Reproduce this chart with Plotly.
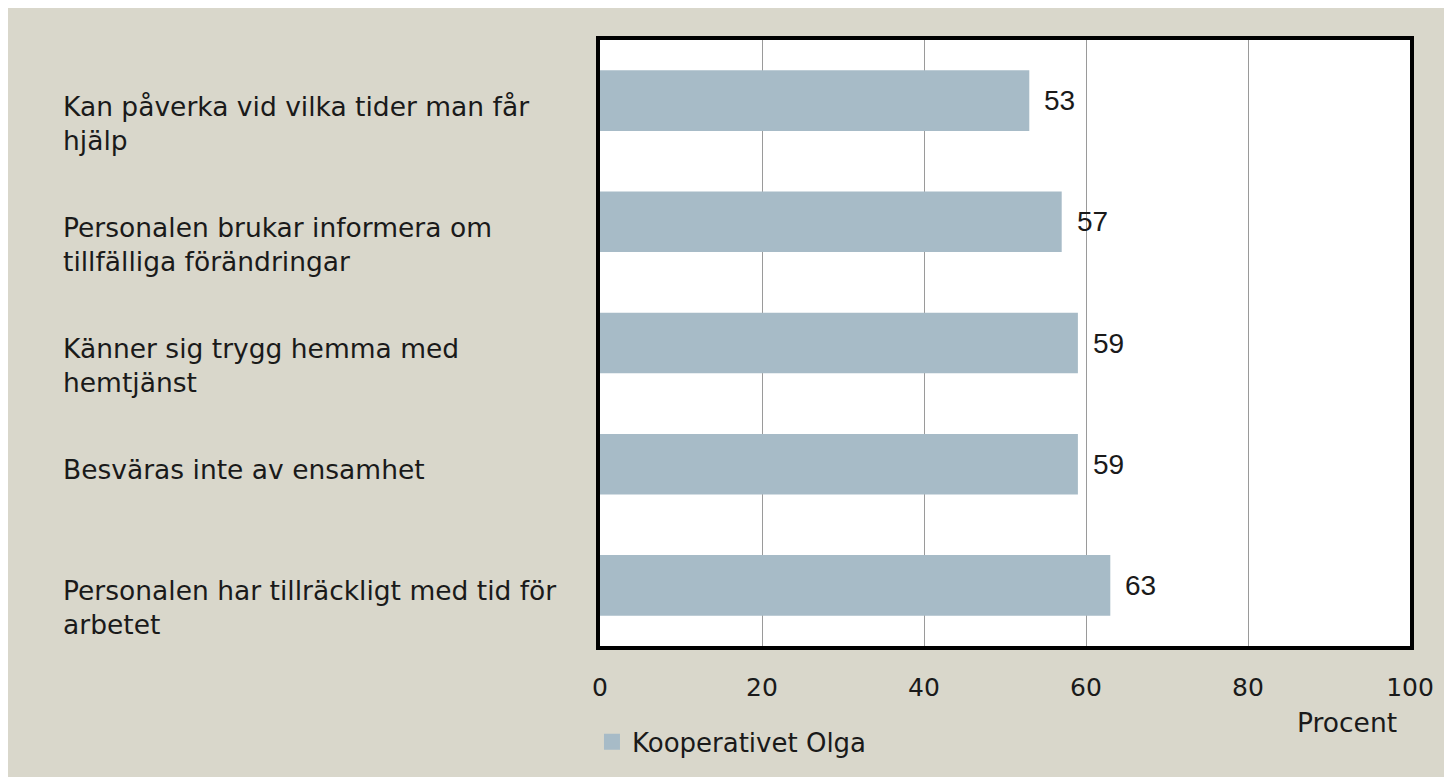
import plotly.graph_objects as go

categories = [
    "Kan påverka vid vilka tider man får<br>hjälp",
    "Personalen brukar informera om<br>tillfälliga förändringar",
    "Känner sig trygg hemma med<br>hemtjänst",
    "Besväras inte av ensamhet",
    "Personalen har tillräckligt med tid för<br>arbetet",
]
values = [53, 57, 59, 59, 63]
series_name = "Kooperativet Olga"
tick_vals = [0, 20, 40, 60, 80, 100]
x_title = "Procent"

BG = "#D9D7CB"
BAR = "#A7BBC7"
TXT = "#1a1a1a"
LABEL_FONT = "DejaVu Sans"

fig = go.Figure()
fig.add_trace(go.Bar(
    x=values, y=categories, orientation="h", name=series_name,
    marker=dict(color=BAR, line=dict(width=0)),
    showlegend=False,
))
# legend entry with a larger square swatch (no data points drawn)
fig.add_trace(go.Scatter(
    x=[None], y=[None], mode="markers", name=series_name,
    marker=dict(symbol="square", size=16, color=BAR, line=dict(width=0)),
    showlegend=True, hoverinfo="skip",
))

annotations = []
for c in categories:
    annotations.append(dict(
        x=-0.666, xref="paper", y=c, yref="y", text=c,
        xanchor="left", yanchor="top", align="left", yshift=12,
        showarrow=False, font=dict(family=LABEL_FONT, size=26.5, color=TXT),
    ))
for c, v in zip(categories, values):
    annotations.append(dict(
        x=v, xref="x", y=c, yref="y", text=str(v),
        xanchor="left", yanchor="middle", xshift=13,
        showarrow=False,
        font=dict(family="Liberation Sans", size=28, color=TXT),
    ))
annotations.append(dict(
    x=0.922, xref="paper", y=-0.127, yref="paper", text=x_title,
    xanchor="center", yanchor="middle", showarrow=False,
    font=dict(family=LABEL_FONT, size=26.5, color=TXT),
))

fig.update_layout(
    width=1444, height=769,
    margin=dict(l=592, r=42, t=32, b=129, pad=0),
    paper_bgcolor=BG, plot_bgcolor="white",
    bargap=0.5,
    annotations=annotations,
    legend=dict(orientation="h", x=-0.0099, xanchor="left", y=-0.158, yanchor="middle",
                font=dict(family=LABEL_FONT, size=26, color=TXT),
                bgcolor="rgba(0,0,0,0)", itemwidth=30),
    font=dict(family=LABEL_FONT, color=TXT),
)
fig.update_xaxes(
    range=[0, 100], tickvals=tick_vals, showgrid=True, gridcolor="#9a9a9a", gridwidth=1.3,
    zeroline=False, showline=True, linecolor="black", linewidth=4, mirror=True,
    ticks="", ticklabelstandoff=16,
    tickfont=dict(family=LABEL_FONT, size=25, color=TXT),
)
fig.update_yaxes(
    categoryorder="array", categoryarray=categories, autorange="reversed",
    showticklabels=False, showgrid=False, zeroline=False,
    showline=True, linecolor="black", linewidth=4, mirror=True, ticks="",
)

fig.write_html("out.html")
